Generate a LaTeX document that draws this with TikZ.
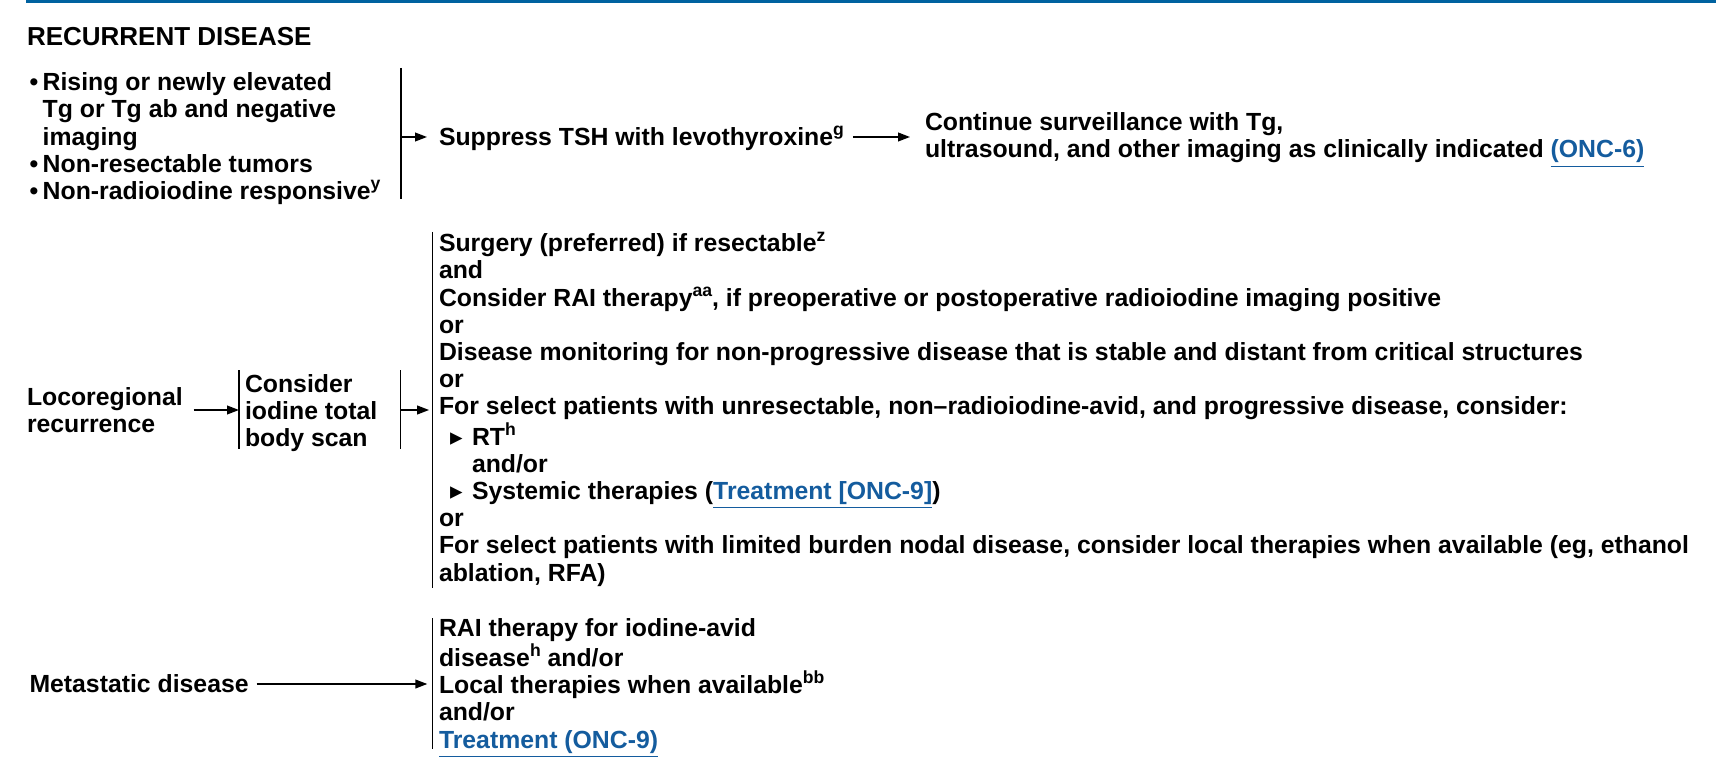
\documentclass[tikz,border=0pt]{standalone}
\usepackage{fontspec}
\setmainfont{Liberation Sans}
\newfontfamily\symf{DejaVu Sans}
\usetikzlibrary{arrows.meta}
\definecolor{nccnblue}{RGB}{0,98,160}
\definecolor{linkblue}{RGB}{20,92,158}
\newcommand\lnk[1]{\textcolor{linkblue}{\underline{#1}}}
\newcommand\sups[1]{\raisebox{5pt}{\fontsize{8.8}{8.8}\selectfont #1}}
\newcommand\bul{\makebox[6.6pt][l]{•}}
\newcommand\tri{\makebox[16.5pt][l]{\hspace*{5.5pt}{\symf\fontsize{12.5}{12}\selectfont ▸}}}
\newcommand\indA{\hspace*{16.5pt}}
\begin{document}
\begin{tikzpicture}[x=0.5pt,y=-0.5pt,
  every node/.style={inner sep=0pt, outer sep=0pt, anchor=base west, align=left,
    font=\bfseries\fontsize{12.4}{13.6}\selectfont},
  bar/.style={line width=0.75pt},
  arr/.style={line width=0.75pt, -{Triangle[length=6pt,width=4.4pt]}}]
\useasboundingbox (0,0) rectangle (1716,780);
\fill[nccnblue] (26,0) rectangle (1716,3);

\node (title) at (27,46) {\fontsize{13}{15}\selectfont RECURRENT DISEASE};

% ---- row 1 (multi-line nodes are placed by the baseline of their last line)
\node (crit) at (29.5,199.5) {\bul Rising or newly elevated\\
\hspace*{6.6pt}Tg or Tg ab and negative\\
\hspace*{6.6pt}imaging\\
\bul Non-resectable tumors\\
\bul Non-radioiodine responsive\sups{y}};
\coordinate (b1top) at (401,68);
\coordinate (b1bot) at (401,199);
\coordinate (b1) at (401,137);
\draw[bar] (b1top) -- (b1bot);
\node (supp) at (439,145.5) {Suppress TSH with levothyroxine\sups{g}};
\node (cont) at (925,158) {Continue surveillance with Tg,\\
ultrasound, and other imaging as clinically indicated \lnk{(ONC-6)}};
\draw[arr] (b1) -- ([xshift=-6pt]supp.west |- b1);
\draw[arr] ([xshift=4.5pt]supp.east |- b1) -- ([xshift=-7.5pt]cont.west |- b1);

% ---- row 2
\node (loco) at (27,432.5) {Locoregional\\recurrence};
\coordinate (b2top) at (239,370);
\coordinate (b2bot) at (239,449);
\coordinate (b2) at (239,410);
\draw[bar] (b2top) -- (b2bot);
\draw[arr] ([xshift=5.5pt]loco.east |- b2) -- (b2);
\node (scan) at (245,446.5) {Consider\\iodine total\\body scan};
\coordinate (b3top) at (400.6,370);
\coordinate (b3bot) at (400.6,449);
\coordinate (b3) at (400.6,410);
\draw[bar] (b3top) -- (b3bot);
\coordinate (b4top) at (432.3,232);
\coordinate (b4bot) at (432.3,588);
\coordinate (b4) at (432.3,410);
\draw[bar] (b4top) -- (b4bot);
\draw[arr] (b3) -- ([xshift=-1.6pt]b4);
\node (opts) at (439,581) {Surgery (preferred) if resectable\sups{z}\\
and\\
Consider RAI therapy\sups{aa}, if preoperative or postoperative radioiodine imaging positive\\
or\\
Disease monitoring for non-progressive disease that is stable and distant from critical structures\\
or\\
For select patients with unresectable, non–radioiodine-avid, and progressive disease, consider:\\
\tri RT\sups{h}\\
\indA and/or\\
\tri Systemic therapies (\lnk{Treatment [ONC-9]})\\
or\\
For select patients with limited burden nodal disease, consider local therapies when available (eg, ethanol\\
ablation, RFA)};

% ---- row 3
\node (meta) at (29.5,692.5) {Metastatic disease};
\coordinate (b5top) at (432.3,618);
\coordinate (b5bot) at (432.3,749);
\coordinate (b5) at (432.3,684);
\draw[bar] (b5top) -- (b5bot);
\draw[arr] ([xshift=4pt]meta.east |- b5) -- ([xshift=-2.5pt]b5);
\node (mopts) at (439,748) {RAI therapy for iodine-avid\\
disease\sups{h} and/or\\
Local therapies when available\sups{bb}\\
and/or\\
\lnk{Treatment (ONC-9)}};
\end{tikzpicture}
\end{document}
